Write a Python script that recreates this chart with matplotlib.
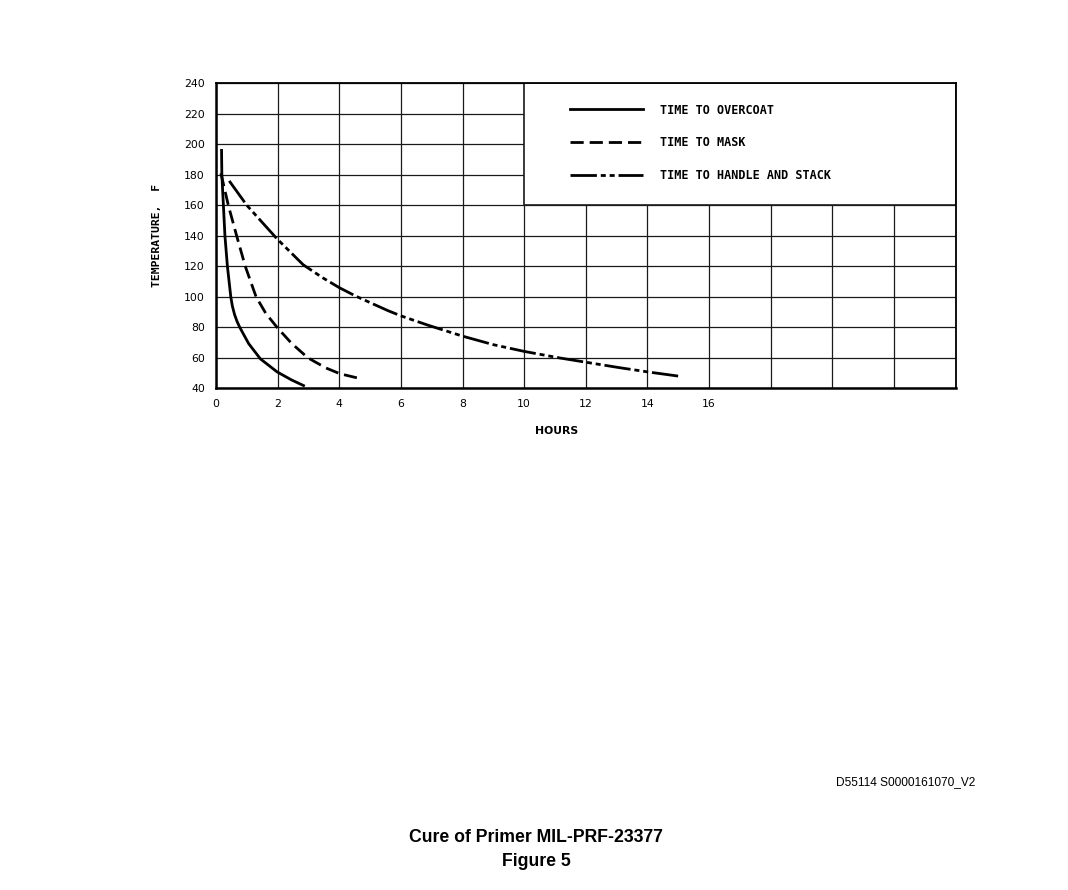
import matplotlib
matplotlib.use("Agg")
import matplotlib.pyplot as plt
from matplotlib.patches import Rectangle

plt.rcParams['lines.scale_dashes'] = False

# Data (hours, degrees F)
overcoat_h = [0.18, 0.19, 0.24, 0.29, 0.37, 0.48, 0.53, 0.60, 0.68, 0.77, 1.06, 1.44,
              1.98, 2.45, 2.84]
overcoat_t = [196, 180, 160, 140, 120, 100, 94, 88.5, 84, 80, 69.3, 59.3,
              50.8, 45.5, 41.8]

mask_h = [0.16, 0.40, 0.67, 0.95, 1.30, 1.62, 1.98, 2.45, 2.98, 3.57, 4.03, 4.65]
mask_t = [181, 160, 140, 120, 100, 89, 80, 69.5, 60, 53.3, 49.5, 46.5]

handle_h = [0.43, 1.00, 1.98, 2.83, 3.46, 4.00, 4.55, 5.57, 6.00, 6.86, 8.00, 9.00,
            10.00, 11.15, 12.06, 13.10, 14.06, 15.00]
handle_t = [176, 160, 138, 121, 112.5, 106, 100.3, 91, 87.5, 81.5, 74.2, 68.6,
            64.2, 59.9, 56.9, 53.5, 50.6, 48.0]

labels = ["TIME TO OVERCOAT", "TIME TO MASK", "TIME TO HANDLE AND STACK"]
x_ticks = list(range(0, 25, 2))
x_ticklabels = ["0", "2", "4", "6", "8", "10", "12", "14", "16", "", "", "", ""]
y_ticks = list(range(40, 241, 20))

fig = plt.figure(figsize=(10.68, 8.90), dpi=100)
ax = fig.add_axes([216/1068, 1-388.3/890, (955.7-216)/1068, (388.3-83.3)/890])
ax.set_xlim(0, 24)
ax.set_ylim(40, 240)
ax.set_xticks(x_ticks)
ax.set_xticklabels(x_ticklabels)
ax.set_yticks(y_ticks)
ax.tick_params(length=0, labelsize=7.8, pad=8)
for lab in ax.get_xticklabels() + ax.get_yticklabels():
    lab.set_family("DejaVu Sans")
ax.grid(True, color="#1a1a1a", linewidth=0.9, zorder=0)
ax.set_axisbelow(True)
for s in ax.spines.values():
    s.set_linewidth(1.3)
ax.spines['left'].set_linewidth(1.8)
ax.spines['bottom'].set_linewidth(1.8)

# legend panel covering the grid in the upper right
ax.add_patch(Rectangle((10, 160), 14, 80, facecolor="white", edgecolor="#1a1a1a",
                       linewidth=1.2, zorder=1.5))

lw = 2.0
l1, = ax.plot(overcoat_h, overcoat_t, color="black", linewidth=lw, zorder=3,
              solid_joinstyle="round")
l2, = ax.plot(mask_h, mask_t, color="black", linewidth=lw, zorder=3, dashes=(9.5, 4.3))
l3, = ax.plot(handle_h, handle_t, color="black", linewidth=lw, zorder=3,
              dashes=(19, 2.8, 3.6, 2.8, 3.6, 2.8))

leg = ax.legend([l1, l2, l3], labels, loc="upper left",
                bbox_to_anchor=((570-216)/739.7, (388.3-103.5)/305),
                frameon=False, borderaxespad=0, borderpad=0,
                handlelength=6.2, handletextpad=1.45, labelspacing=1.67,
                prop={"family": "DejaVu Sans Mono", "size": 8.5, "weight": "bold"})
leg.set_zorder(4)

fig.text(157/1068, 1-235.7/890, "TEMPERATURE,  F", rotation=90, ha="center", va="center",
         fontsize=8.2, family="DejaVu Sans Mono", fontweight="bold")
fig.text(557/1068, 1-431/890, "HOURS", ha="center", va="center", fontsize=7.8,
         family="DejaVu Sans", fontweight="bold")
fig.text(975/1068, 1-782/890, "D55114 S0000161070_V2", ha="right", va="center",
         fontsize=8.6, family="Liberation Sans")
fig.text(536/1068, 1-838/890, "Cure of Primer MIL-PRF-23377", ha="center", va="center",
         fontsize=12.7, family="Liberation Sans", fontweight="bold")
fig.text(536/1068, 1-861/890, "Figure 5", ha="center", va="center",
         fontsize=12.7, family="Liberation Sans", fontweight="bold")

fig.savefig("out.png", dpi=100)
